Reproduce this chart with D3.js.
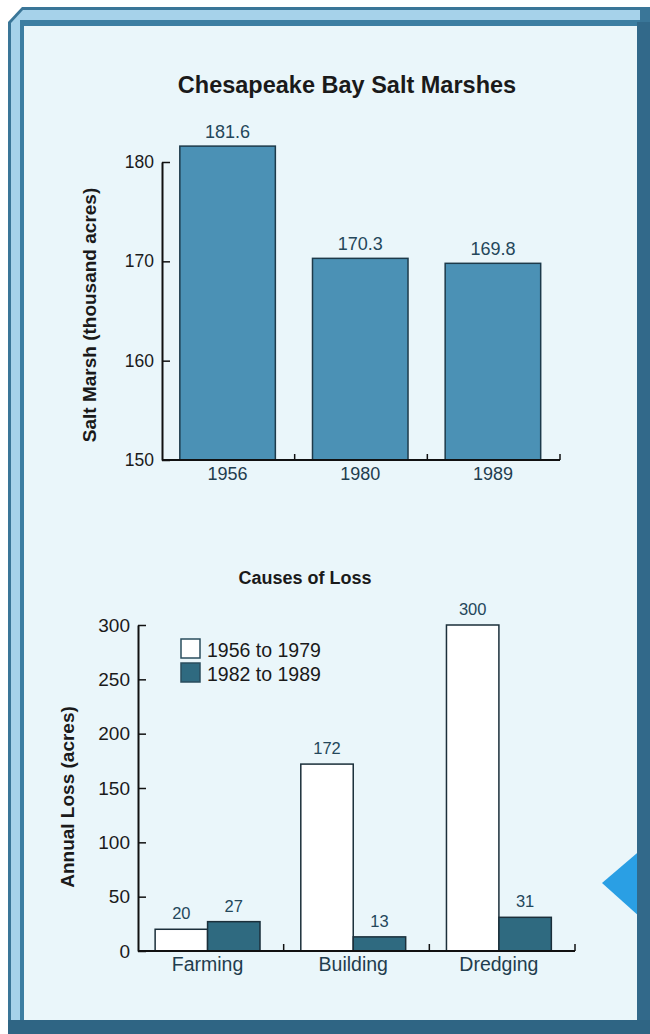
<!DOCTYPE html>
<html>
<head>
<meta charset="utf-8">
<script src="https://cdn.jsdelivr.net/npm/d3@7"></script>
<style>
  body { margin: 0; background: #fff; }
  text { font-family: "Liberation Sans", Arial, sans-serif; }
</style>
</head>
<body>
<div id="chart"></div>
<script>
// top chart data
const years = ["1956", "1980", "1989"];
const marsh = [181.6, 170.3, 169.8];
const marshTicks = [150, 160, 170, 180];

// bottom chart data
const causes = ["Farming", "Building", "Dredging"];
const series = ["1956 to 1979", "1982 to 1989"];
const loss1 = [20, 172, 300];
const loss2 = [27, 13, 31];
const lossTicks = [0, 50, 100, 150, 200, 250, 300];

const W = 650, H = 1034;
const svg = d3.select("#chart").append("svg")
    .attr("width", W)
    .attr("height", H);

/* FRAME */
svg.append("polygon")
    .attr("points", "8,22 22,7 650,7 650,1034 8,1034")
    .attr("fill", "#3a7698");
svg.append("polygon")
    .attr("points", "11,23 23,10 640,10 640,1020 11,1020")
    .attr("fill", "#a6d2ea");
svg.append("rect")
    .attr("x", 20).attr("y", 20)
    .attr("width", 620).attr("height", 1002)
    .attr("fill", "#3c7ea2");
svg.append("rect")
    .attr("x", 24).attr("y", 26)
    .attr("width", 613).attr("height", 994)
    .attr("fill", "#eaf6fa");

// blue pointer on the right edge
svg.append("polygon")
    .attr("points", "602,883 650,842 650,926")
    .attr("fill", "#2a9fe4");

// right and bottom dark bands drawn over the pointer
svg.append("rect")
    .attr("x", 637).attr("y", 22)
    .attr("width", 13).attr("height", 1012)
    .attr("fill", "#32698a");
svg.append("rect")
    .attr("x", 8).attr("y", 1020)
    .attr("width", 642).attr("height", 14)
    .attr("fill", "#2f6584");

/* TOP CHART */
var topG = svg.append("g");
var y1 = d3.scaleLinear().domain([150, 180]).range([460, 162]);
var x1 = d3.scaleBand()
    .domain(years)
    .range([162, 560])
    .paddingInner(0.28)
    .paddingOuter(0.14)
    .align(0.48);

topG.append("text")
    .attr("x", 347).attr("y", 93)
    .attr("text-anchor", "middle")
    .style("font-size", "23.5px")
    .style("font-weight", "bold")
    .attr("fill", "#1a1a1a")
    .text("Chesapeake Bay Salt Marshes");

topG.selectAll("rect.bar")
    .data(marsh)
    .enter().append("rect")
    .attr("class", "bar")
    .attr("x", (d, i) => x1(years[i]))
    .attr("width", x1.bandwidth())
    .attr("y", d => y1(d))
    .attr("height", d => y1(150) - y1(d))
    .attr("fill", "#4b91b5")
    .attr("stroke", "#1d3a4a")
    .attr("stroke-width", 1.5);

topG.selectAll("text.val")
    .data(marsh)
    .enter().append("text")
    .attr("class", "val")
    .attr("x", (d, i) => x1(years[i]) + x1.bandwidth() / 2)
    .attr("y", d => y1(d) - 8)
    .attr("text-anchor", "middle")
    .style("font-size", "18px")
    .attr("fill", "#24475a")
    .text(d => d.toFixed(1));

var yaxis1 = d3.axisLeft(y1)
    .tickValues(marshTicks)
    .tickSizeInner(-8)
    .tickSizeOuter(0)
    .tickPadding(8);
topG.append("g")
    .attr("transform", "translate(162,0)")
    .call(yaxis1)
    .call(g => g.select(".domain").attr("stroke", "#111").attr("stroke-width", 2))
    .call(g => g.selectAll(".tick line").attr("stroke", "#111").attr("stroke-width", 1.5))
    .call(g => g.selectAll(".tick text").style("font-size", "17.5px").attr("fill", "#1a1a1a"));

// x axis line with small upward ticks on band edges
topG.append("line")
    .attr("x1", x1.range()[0]).attr("x2", x1.range()[1])
    .attr("y1", y1(150)).attr("y2", y1(150))
    .attr("stroke", "#111").attr("stroke-width", 2);
topG.selectAll("line.xt")
    .data(years)
    .enter().append("line")
    .attr("class", "xt")
    .attr("x1", (d, i) => x1.range()[0] + (i + 1) * x1.step())
    .attr("x2", (d, i) => x1.range()[0] + (i + 1) * x1.step())
    .attr("y1", y1(150)).attr("y2", y1(150) - 6)
    .attr("stroke", "#111").attr("stroke-width", 1.5);

topG.selectAll("text.cat")
    .data(years)
    .enter().append("text")
    .attr("class", "cat")
    .attr("x", d => x1(d) + x1.bandwidth() / 2)
    .attr("y", 480)
    .attr("text-anchor", "middle")
    .style("font-size", "18px")
    .attr("fill", "#1f3d4e")
    .text(d => d);

topG.append("text")
    .attr("transform", "translate(96,315) rotate(-90)")
    .attr("text-anchor", "middle")
    .style("font-size", "19px")
    .style("font-weight", "bold")
    .attr("fill", "#1a1a1a")
    .text("Salt Marsh (thousand acres)");

/* BOTTOM CHART */
var bot = svg.append("g");
var y2 = d3.scaleLinear().domain([0, 300]).range([951, 625]);
var x2 = d3.scaleBand()
    .domain(causes)
    .range([138, 575])
    .paddingInner(0.28)
    .paddingOuter(0.14)
    .align(0.42);
var xs = d3.scaleBand()
    .domain(series)
    .range([0, x2.bandwidth()]);
var color = d3.scaleOrdinal()
    .domain(series)
    .range(["#ffffff", "#2f6a80"]);

bot.append("text")
    .attr("x", 305).attr("y", 584)
    .attr("text-anchor", "middle")
    .style("font-size", "18px")
    .style("font-weight", "bold")
    .attr("fill", "#1a1a1a")
    .text("Causes of Loss");

var rows = causes.map((c, i) => ({ cause: c, values: [loss1[i], loss2[i]] }));

var groups = bot.selectAll("g.grp")
    .data(rows)
    .enter().append("g")
    .attr("class", "grp")
    .attr("transform", d => "translate(" + x2(d.cause) + ",0)");

groups.selectAll("rect")
    .data(d => d.values.map((v, j) => ({ s: series[j], v: v })))
    .enter().append("rect")
    .attr("x", d => xs(d.s))
    .attr("width", xs.bandwidth())
    .attr("y", d => y2(d.v))
    .attr("height", d => y2(0) - y2(d.v))
    .attr("fill", d => color(d.s))
    .attr("stroke", "#1b2f3a")
    .attr("stroke-width", 1.5);

groups.selectAll("text")
    .data(d => d.values.map((v, j) => ({ s: series[j], v: v })))
    .enter().append("text")
    .attr("x", d => xs(d.s) + xs.bandwidth() / 2)
    .attr("y", d => y2(d.v) - 10)
    .attr("text-anchor", "middle")
    .style("font-size", "16.5px")
    .attr("fill", "#24475a")
    .text(d => d.v);

var yaxis2 = d3.axisLeft(y2)
    .tickValues(lossTicks)
    .tickSizeInner(-8)
    .tickSizeOuter(0)
    .tickPadding(8);
bot.append("g")
    .attr("transform", "translate(138,0)")
    .call(yaxis2)
    .call(g => g.select(".domain").attr("stroke", "#111").attr("stroke-width", 2))
    .call(g => g.selectAll(".tick line").attr("stroke", "#111").attr("stroke-width", 1.5))
    .call(g => g.selectAll(".tick text").style("font-size", "19px").attr("fill", "#1a1a1a"));

bot.append("line")
    .attr("x1", x2.range()[0]).attr("x2", x2.range()[1])
    .attr("y1", y2(0)).attr("y2", y2(0))
    .attr("stroke", "#111").attr("stroke-width", 2);
bot.selectAll("line.xt")
    .data(causes)
    .enter().append("line")
    .attr("class", "xt")
    .attr("x1", (d, i) => x2.range()[0] + (i + 1) * x2.step())
    .attr("x2", (d, i) => x2.range()[0] + (i + 1) * x2.step())
    .attr("y1", y2(0)).attr("y2", y2(0) - 7)
    .attr("stroke", "#111").attr("stroke-width", 1.5);

bot.selectAll("text.cat")
    .data(causes)
    .enter().append("text")
    .attr("class", "cat")
    .attr("x", d => x2(d) + x2.bandwidth() / 2)
    .attr("y", 971)
    .attr("text-anchor", "middle")
    .style("font-size", "19.5px")
    .attr("fill", "#1f3d4e")
    .text(d => d);

bot.append("text")
    .attr("transform", "translate(74,797) rotate(-90)")
    .attr("text-anchor", "middle")
    .style("font-size", "19px")
    .style("font-weight", "bold")
    .attr("fill", "#1a1a1a")
    .text("Annual Loss (acres)");

// legend
var legend = bot.selectAll("g.leg")
    .data(series)
    .enter().append("g")
    .attr("class", "leg")
    .attr("transform", (d, i) => "translate(181," + (639 + i * 24) + ")");
legend.append("rect")
    .attr("width", 19).attr("height", 19)
    .attr("fill", d => color(d))
    .attr("stroke", "#2a4d5e")
    .attr("stroke-width", 1.5);
legend.append("text")
    .attr("x", 26).attr("y", 18)
    .style("font-size", "19.5px")
    .attr("fill", "#1a1a1a")
    .text(d => d);
</script>
</body>
</html>
